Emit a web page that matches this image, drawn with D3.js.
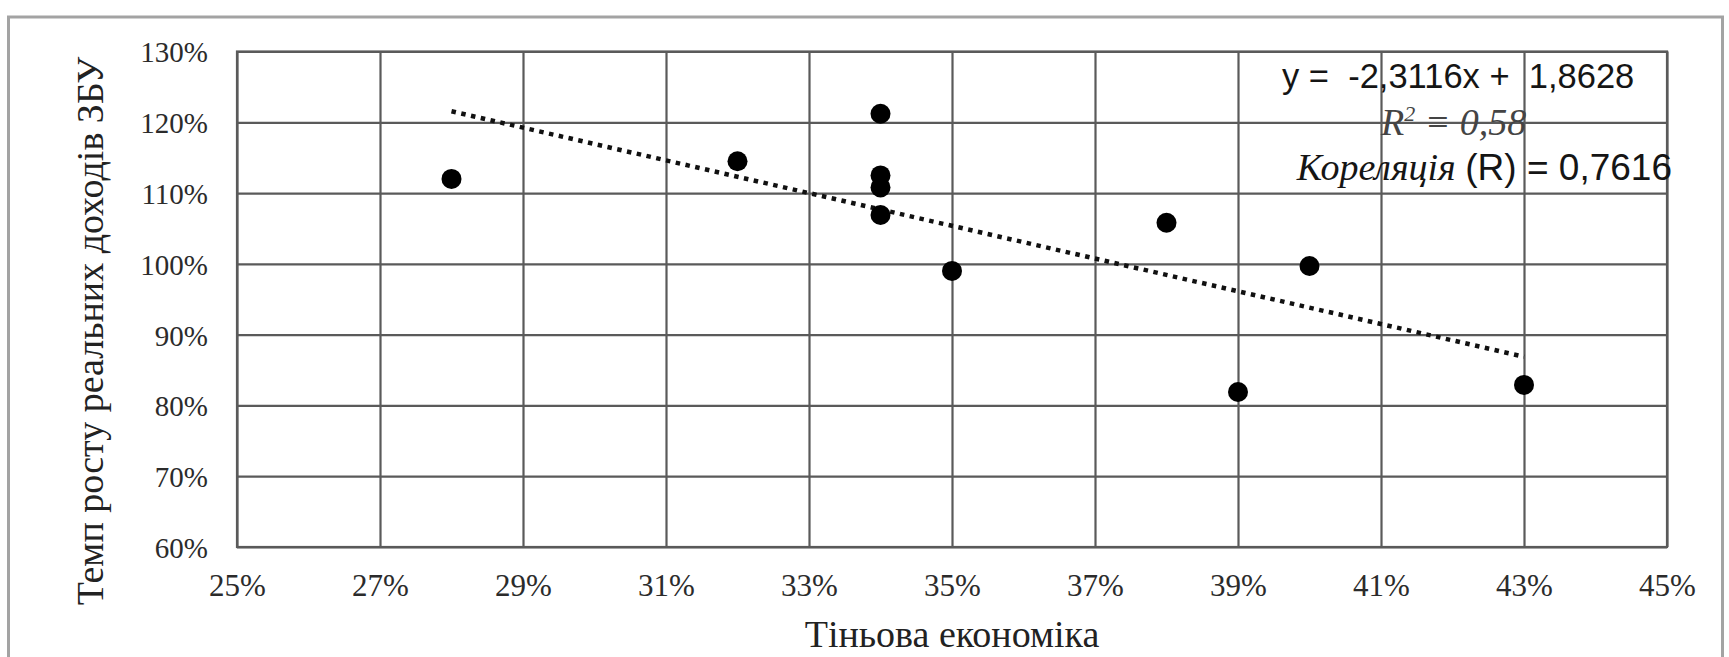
<!DOCTYPE html>
<html lang="uk">
<head>
<meta charset="utf-8">
<script src="https://cdn.jsdelivr.net/npm/d3@7"></script>
<style>
  html, body { margin: 0; padding: 0; background: #fff; }
  svg { display: block; }
  text { white-space: pre; }
</style>
</head>
<body>
<script>
// Shadow economy share (x) vs. growth rate of real incomes (y)
const shadowShare = [0.28, 0.32, 0.34, 0.34, 0.34, 0.34, 0.35, 0.38, 0.39, 0.40, 0.43];
const incomeGrowth = [1.120, 1.145, 1.212, 1.125, 1.108, 1.069, 0.990, 1.058, 0.819, 0.997, 0.829];

// Linear trend and fit statistics
const trendSlope = -2.3116;
const trendIntercept = 1.8628;
const rSquared = 0.58;
const correlation = 0.7616;

// Axis ticks
const xTicks = [0.25, 0.27, 0.29, 0.31, 0.33, 0.35, 0.37, 0.39, 0.41, 0.43, 0.45];
const yTicks = [0.6, 0.7, 0.8, 0.9, 1.0, 1.1, 1.2, 1.3];

const xTitle = "Тіньова економіка";
const yTitle = "Темп росту реальних доходів ЗБУ";

const W = 1729, H = 657;
const plot = { left: 237, right: 1667, top: 51.5, bottom: 547 };

const uk = d3.formatLocale({ decimal: ",", thousands: " ", grouping: [3], currency: ["", " ₴"], minus: "-", percent: "%" });
const pct = uk.format(".0%");
const f4 = uk.format(".4f");
const f2 = uk.format(".2f");

const sans = "'Liberation Sans', Arial, sans-serif";
const serif = "'Liberation Serif', 'Times New Roman', serif";

const svg = d3.select("body").append("svg").attr("width", W).attr("height", H);

// chart frame
svg.append("rect")
  .attr("x", 8.5).attr("y", 17).attr("width", 1714).attr("height", 660)
  .attr("fill", "#fff").attr("stroke", "#a3a3a3").attr("stroke-width", 3);

const x = d3.scaleLinear().domain([xTicks[0], xTicks[xTicks.length - 1]]).range([plot.left, plot.right]);
const y = d3.scaleLinear().domain([yTicks[0], yTicks[yTicks.length - 1]]).range([plot.bottom, plot.top]);

const gridColor = "#5a5a5a";

// grid
const gx = svg.append("g")
  .attr("transform", `translate(0,${plot.bottom})`)
  .call(d3.axisBottom(x).tickValues(xTicks).tickSize(-(plot.bottom - plot.top)).tickFormat(pct).tickPadding(27));
const gy = svg.append("g")
  .attr("transform", `translate(${plot.left},0)`)
  .call(d3.axisLeft(y).tickValues(yTicks).tickSize(-(plot.right - plot.left)).tickFormat(pct).tickPadding(29));

[gx, gy].forEach(g => {
  g.attr("font-family", serif);
  g.select(".domain").remove();
  g.selectAll(".tick line").attr("stroke", gridColor).attr("stroke-width", 2.2);
  g.selectAll(".tick text")
    .attr("fill", "#2b2b2b")
    .style("font-family", serif);
});
gx.selectAll(".tick text").style("font-size", "31px").attr("dy", "0.71em");
gy.selectAll(".tick text").style("font-size", "29px").attr("dy", "0.36em").attr("x", -29);

// plot border
svg.append("rect")
  .attr("x", plot.left).attr("y", plot.top)
  .attr("width", plot.right - plot.left).attr("height", plot.bottom - plot.top)
  .attr("fill", "none").attr("stroke", gridColor).attr("stroke-width", 2.2);

// trend line over the data range
const xr = d3.extent(shadowShare);
svg.append("path")
  .datum(xr.map(v => [v, trendSlope * v + trendIntercept]))
  .attr("d", d3.line().x(d => x(d[0])).y(d => y(d[1])))
  .attr("fill", "none").attr("stroke", "#111").attr("stroke-width", 4.5)
  .attr("stroke-dasharray", "4.5 5.5");

// points
svg.append("g").selectAll("circle")
  .data(shadowShare.map((v, i) => [v, incomeGrowth[i]]))
  .join("circle")
  .attr("cx", d => x(d[0])).attr("cy", d => y(d[1]))
  .attr("r", 10).attr("fill", "#000");

// regression annotation
svg.append("text")
  .attr("x", 1282).attr("y", 88)
  .style("font-family", sans).style("font-size", "34.5px").attr("fill", "#151515")
  .text(`y =  ${f4(trendSlope)}x +  ${f4(trendIntercept)}`);

const r2 = svg.append("text")
  .attr("x", 1381).attr("y", 135)
  .style("font-family", serif).style("font-size", "38px").style("font-style", "italic")
  .attr("fill", "#444");
r2.append("tspan").text("R");
r2.append("tspan").text("2").style("font-size", "22px").attr("dy", -14);
r2.append("tspan").text(` = ${f2(rSquared)}`).attr("dy", 14);

const corr = svg.append("text")
  .attr("x", 1672).attr("y", 180).attr("text-anchor", "end")
  .attr("fill", "#151515");
corr.append("tspan").text("Кореляція ")
  .style("font-family", serif).style("font-size", "38px").style("font-style", "italic");
corr.append("tspan").text(`(R) = ${f4(correlation)}`)
  .style("font-family", sans).style("font-size", "37px");

// axis titles
svg.append("text")
  .attr("x", (plot.left + plot.right) / 2).attr("y", 647)
  .attr("text-anchor", "middle")
  .style("font-family", serif).style("font-size", "38px").attr("fill", "#222")
  .text(xTitle);

svg.append("text")
  .attr("transform", `translate(103,331) rotate(-90)`)
  .attr("text-anchor", "middle")
  .style("font-family", serif).style("font-size", "38px").attr("fill", "#222")
  .text(yTitle);
</script>
</body>
</html>
